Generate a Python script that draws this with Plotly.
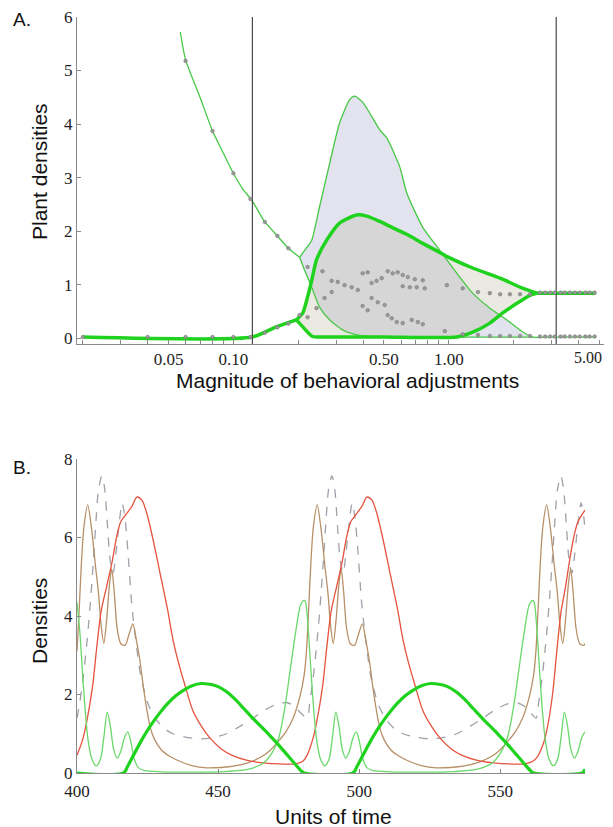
import math
import plotly.graph_objects as go

# page body adds an 8px offset; figure sized so that it fills the window exactly
OX, OY = 8, 8
W, H = 605, 819

# ---------------- Panel A data ----------------
# thin green: upper branch (left)
upper_x = [0.0567, 0.06, 0.07, 0.08, 0.09, 0.10, 0.11, 0.1225, 0.14, 0.16, 0.18, 0.203]
upper_y = [5.72, 5.2, 4.5, 3.87, 3.45, 3.08, 2.8, 2.56, 2.17, 1.91, 1.68, 1.51]
# thin green: upper boundary of oscillation envelope (lavender region)
env_top_x = [0.203, 0.218, 0.231, 0.251, 0.280, 0.311, 0.346, 0.365, 0.398, 0.478, 0.515, 0.592,
             0.638, 0.757, 0.908, 1.09, 1.29, 1.55, 1.86, 2.21, 2.46, 3.0, 4.0, 4.8]
env_top_y = [1.51, 1.68, 1.83, 2.45, 3.27, 4.02, 4.45, 4.52, 4.41, 3.89, 3.74, 3.2,
             2.71, 2.07, 1.64, 1.21, 0.84, 0.56, 0.34, 0.11, 0.02, 0.02, 0.02, 0.02]
# thin green: lower boundary of lavender region
env_low_x = [0.203, 0.214, 0.231, 0.251, 0.280, 0.322, 0.373, 0.478, 1.0, 2.46]
env_low_y = [1.51, 1.27, 0.95, 0.58, 0.34, 0.15, 0.06, 0.02, 0.02, 0.02]

# thick green
thick_left_x = [0.02, 0.1225, 0.158, 0.196]
thick_left_y = [0.02, 0.02, 0.21, 0.34]
loop_up_x = [0.196, 0.21, 0.221, 0.231, 0.243, 0.271, 0.311, 0.373, 0.416, 0.478, 0.55, 0.638,
             0.757, 0.88, 1.01, 1.29, 1.73, 2.21, 2.57]
loop_up_y = [0.34, 0.47, 0.77, 1.08, 1.46, 1.83, 2.15, 2.3, 2.28, 2.18, 2.06, 1.94,
             1.77, 1.63, 1.5, 1.31, 1.12, 0.93, 0.84]
loop_low_x = [0.196, 0.21, 0.233, 0.27, 0.5, 1.09, 1.29, 1.55, 1.78, 2.07, 2.38, 2.57]
loop_low_y = [0.34, 0.21, 0.03, 0.02, 0.02, 0.02, 0.11, 0.28, 0.47, 0.65, 0.8, 0.84]
thick_right_x = [2.57, 4.8]
thick_right_y = [0.84, 0.84]

# simulation dots
dots_x = [0.02, 0.04, 0.06, 0.08, 0.10, 0.12, 0.14, 0.16, 0.18,
          0.06, 0.08, 0.10, 0.12, 0.14, 0.16, 0.18,
          0.221, 0.259, 0.286, 0.305, 0.328, 0.354, 0.378, 0.398, 0.42, 0.438, 0.462, 0.488,
          0.52, 0.549, 0.579, 0.611, 0.645, 0.695, 0.757, 0.611, 0.659, 0.71, 0.773,
          0.979, 1.16, 1.365, 1.55, 1.73, 1.92, 2.14, 2.38,
          0.203, 0.221, 0.243, 0.265, 0.286, 0.398, 0.42, 0.438, 0.468, 0.504, 0.52, 0.543,
          0.573, 0.611, 0.673, 0.718, 0.757, 0.958, 1.16, 1.365, 1.55, 1.73, 1.92, 2.14, 2.38,
          2.65, 2.8, 2.95, 3.1, 3.3, 3.45, 3.65, 3.85, 4.05, 4.3, 4.5, 4.75,
          2.65, 2.8, 2.95, 3.1, 3.3, 3.45, 3.65, 3.85, 4.05, 4.3, 4.5, 4.75]
dots_y = [0.02, 0.02, 0.02, 0.02, 0.02, 0.02, 0.1, 0.2, 0.27,
          5.18, 3.87, 3.08, 2.6, 2.17, 1.91, 1.68,
          1.33, 1.25, 1.07, 1.05, 0.99, 0.95, 0.9, 1.21, 1.23, 1.03, 1.07, 1.12,
          1.25, 1.21, 1.23, 1.18, 1.14, 1.1, 1.08, 0.97, 0.95, 0.95, 0.93,
          0.99, 0.93, 0.86, 0.84, 0.82, 0.82, 0.82, 0.82,
          0.43, 0.39, 0.56, 0.75, 0.86, 0.6, 0.52, 0.75, 0.67, 0.62, 0.43, 0.37,
          0.3, 0.28, 0.34, 0.3, 0.26, 0.13, 0.07, 0.06, 0.04, 0.04, 0.04, 0.04, 0.04,
          0.85, 0.85, 0.85, 0.85, 0.85, 0.85, 0.85, 0.85, 0.85, 0.85, 0.85, 0.85,
          0.03, 0.03, 0.03, 0.03, 0.03, 0.03, 0.03, 0.03, 0.03, 0.03, 0.03, 0.03]

vlines_x = [0.1225, 3.15]

xA_tickvals = [0.02, 0.03, 0.04, 0.05, 0.06, 0.07, 0.08, 0.09, 0.10, 0.2, 0.3, 0.4, 0.5,
               0.6, 0.7, 0.8, 0.9, 1.0, 2, 3, 4, 5]
xA_ticktext = ["", "", "", "0.05", "", "", "", "", "0.10", "", "", "", "0.50",
               "", "", "", "", "1.00", "", "", "", ""]
xA_last_label = "5.00"   # last tick label, right-aligned at the picture edge
yA_tickvals = [0, 1, 2, 3, 4, 5, 6]

# ---------------- Panel B data ----------------
red_t = [400, 402, 403.5, 405.5, 407, 408.5, 410.5, 412.5, 414, 415.5, 417.5, 419.5, 421.2, 423,
         424.8, 427, 429.4, 432, 434, 436, 438, 441, 444, 447, 451, 455, 460, 466, 472, 477, 480,
         481.5, 483.5, 485, 487, 488.5, 490, 492, 494, 495.5, 497, 499, 501, 502.7, 504.5,
         506.3, 508.5, 510.9, 513.5, 515.5, 517.5, 519.5, 522.5, 525.5, 528.5, 532.5, 536.5,
         541.5, 547.5, 553.5, 558.5, 561.5,
         563, 565, 566.5, 568.5, 570, 571.5, 573, 574.5, 576, 577.5, 580]
red_v = [0.45, 0.85, 1.33, 2.2, 3.2, 4.1, 4.75, 5.4, 6.0, 6.4, 6.6, 6.8, 7.03, 6.95,
         6.6, 5.93, 5.1, 4.2, 3.4, 2.8, 2.3, 1.6, 1.2, 0.9, 0.62, 0.45, 0.33, 0.26, 0.23, 0.23, 0.3,
         0.45, 0.85, 1.33, 2.2, 3.2, 4.1, 4.75, 5.4, 6.0, 6.4, 6.6, 6.8, 7.03, 6.95,
         6.6, 5.93, 5.1, 4.2, 3.4, 2.8, 2.3, 1.6, 1.2, 0.9, 0.62, 0.45,
         0.33, 0.26, 0.23, 0.23, 0.3,
         0.4, 0.7, 1.1, 2.0, 3.1, 4.1, 4.7, 5.4, 6.0, 6.4, 6.7]

brown_t = [400, 400.8, 401.6, 402.5, 403.8, 405.2, 406.5, 407.6, 408.5, 409.5, 410.5, 411.5, 412.3,
           413.2, 414.2, 415.5, 417, 418.5, 419.8, 421, 422.3, 423.5, 424.8, 426, 427.5, 430, 433,
           437, 441, 446, 451, 456, 461, 465, 468, 471, 474, 476.6, 479, 480.5,
           481.3, 482.1, 482.9, 483.8, 485.1, 486.5, 487.8, 488.9, 489.8, 490.8, 491.8, 492.8,
           493.6, 494.5, 495.5, 496.8, 498.3, 499.8, 501.1, 502.3, 503.6, 504.8, 506.1, 507.3,
           508.8, 511.3, 514.3, 518.3, 522.3, 527.3, 532.3, 537.3, 542.3, 546.3, 549.3, 552.3,
           555.3, 557.9, 560.3, 561.8,
           562.6, 563.4, 564.2, 565.1, 566.4, 567.8, 569.1, 570.2, 571.1, 572.1, 573.1, 574.1,
           574.9, 575.8, 576.8, 578.1, 579.6, 580]
brown_v = [3.1, 4.2, 5.4, 6.3, 6.83, 6.2, 5.3, 4.6, 3.8, 3.3, 3.9, 4.8, 5.2,
           4.6, 3.7, 3.3, 3.25, 3.55, 3.8, 3.4, 2.86, 2.2, 1.59, 1.15, 0.85, 0.58, 0.42,
           0.28, 0.18, 0.13, 0.14, 0.18, 0.27, 0.4, 0.55, 0.78, 1.05, 1.4, 1.95, 2.5,
           3.1, 4.2, 5.4, 6.3, 6.83, 6.2, 5.3, 4.6, 3.8, 3.3, 3.9, 4.8,
           5.2, 4.6, 3.7, 3.3, 3.25, 3.55, 3.8, 3.4, 2.86, 2.2, 1.59, 1.15,
           0.85, 0.58, 0.42, 0.28, 0.18, 0.13, 0.14, 0.18, 0.27, 0.4, 0.55, 0.78,
           1.05, 1.4, 1.95, 2.5,
           3.1, 4.2, 5.4, 6.3, 6.83, 6.2, 5.3, 4.6, 3.8, 3.3, 3.9, 4.8,
           5.2, 4.6, 3.7, 3.3, 3.25, 3.3]

dash_t = [400, 401, 402.2, 403.2, 404, 405, 405.8, 406.8, 407.6, 408.8, 409.8, 410.8, 411.8,
          412.8, 413.8, 415, 416, 417, 418, 419.4, 420.3, 421.5, 422.5, 424, 425.5, 428.4, 431,
          434, 438, 443.6, 448, 453, 458, 462.4, 466, 471, 474.5, 477, 479,
          481.5, 482.5, 483.7, 484.7, 485.5, 486.5, 487.3, 488.3, 489.1, 490.3, 491.3, 492.3,
          493.3, 494.3, 495.3, 496.5, 497.5, 498.5, 499.5, 500.9, 501.8, 503, 504, 505.5, 507,
          509.9, 512.5, 515.5, 519.5, 525.1, 529.5, 534.5, 539.5, 543.9, 547.5, 552.5, 556,
          558.5, 560.5,
          562.6, 563.6, 564.8, 565.8, 566.6, 567.6, 568.4, 569.4, 570.2, 571.4, 572.4, 573.4,
          574.4, 575.4, 576.4, 577.6, 578.6, 579.6, 580]
dash_v = [1.4, 1.8, 2.43, 3.1, 3.7, 4.6, 5.4, 6.5, 7.2, 7.57, 7.25, 6.3, 5.4,
          5.1, 5.6, 6.4, 6.88, 6.5, 5.68, 4.3, 3.7, 3.0, 2.5, 2.05, 1.7, 1.33, 1.13,
          1.0, 0.92, 0.87, 0.9, 1.0, 1.2, 1.4, 1.58, 1.76, 1.79, 1.7, 1.55,
          1.4, 1.8, 2.43, 3.1, 3.7, 4.6, 5.4, 6.5, 7.2, 7.57, 7.25, 6.3,
          5.4, 5.1, 5.6, 6.4, 6.88, 6.5, 5.68, 4.3, 3.7, 3.0, 2.5, 2.05, 1.7,
          1.33, 1.13, 1.0, 0.92, 0.87, 0.9, 1.0, 1.2, 1.4, 1.58, 1.76, 1.79,
          1.7, 1.55,
          1.4, 1.8, 2.43, 3.1, 3.7, 4.6, 5.4, 6.5, 7.2, 7.57, 7.25, 6.3,
          5.4, 5.1, 5.6, 6.4, 6.88, 6.5, 6.2]

tgreen_t = [400, 401, 402, 403, 404, 405.3, 406.8, 408.3, 409.5, 410.7, 411.8, 413, 414.2, 415.5,
            416.8, 418, 419.2, 420.3, 421.8, 424, 430, 440, 450, 457, 462, 466, 469, 471.5,
            473.5, 475.5, 477.5, 479.3, 480.5,
            481, 482, 483, 484, 485, 486.3, 487.8, 489.3, 490.5, 491.7, 492.8, 494, 495.2, 496.5,
            497.8, 499, 500.2, 501.3, 502.8, 505, 511, 521, 531, 538, 543, 547, 550, 552.5,
            554.5, 556.5, 558.5, 560.3, 561.5,
            562, 563, 564, 565, 566, 567.3, 568.8, 570.3, 571.5, 572.7, 573.8, 575, 576.2, 577.5,
            578.8, 580]
tgreen_v = [4.35, 3.6, 2.5, 1.5, 0.8, 0.35, 0.18, 0.35, 0.9, 1.55, 1.2, 0.6, 0.38, 0.55,
            0.9, 1.05, 0.75, 0.35, 0.13, 0.06, 0.03, 0.02, 0.03, 0.06, 0.12, 0.25, 0.5, 0.9,
            1.6, 2.6, 3.6, 4.3, 4.4,
            4.35, 3.6, 2.5, 1.5, 0.8, 0.35, 0.18, 0.35, 0.9, 1.55, 1.2, 0.6, 0.38, 0.55,
            0.9, 1.05, 0.75, 0.35, 0.13, 0.06, 0.03, 0.02, 0.03, 0.06, 0.12, 0.25, 0.5, 0.9,
            1.6, 2.6, 3.6, 4.3, 4.4,
            4.35, 3.6, 2.5, 1.5, 0.8, 0.35, 0.18, 0.35, 0.9, 1.55, 1.2, 0.6, 0.38, 0.55,
            0.9, 1.05]

kgreen_t = [400, 416.5, 418, 420, 423, 426, 429, 432, 435, 438, 441, 444, 447, 450, 453, 456,
            459, 462, 465, 468, 471, 474, 477, 479.5, 480.5,
            497.8, 499.3, 501.3, 504.3, 507.3, 510.3, 513.3, 516.3, 519.3, 522.3, 525.3, 528.3,
            531.3, 534.3, 537.3, 540.3, 543.3, 546.3, 549.3, 552.3, 555.3, 558.3, 560.8, 561.8,
            579, 580]
kgreen_v = [0, 0, 0.18, 0.45, 0.85, 1.2, 1.5, 1.76, 1.97, 2.12, 2.23, 2.28, 2.26, 2.2, 2.07, 1.88,
            1.65, 1.42, 1.2, 0.98, 0.75, 0.5, 0.25, 0.05, 0,
            0, 0.18, 0.45, 0.85, 1.2, 1.5, 1.76, 1.97, 2.12, 2.23, 2.28, 2.26,
            2.2, 2.07, 1.88, 1.65, 1.42, 1.2, 0.98, 0.75, 0.5, 0.25, 0.05, 0,
            0, 0.1]

xB_tickvals = [400, 450, 500, 550]
yB_tickvals = [0, 2, 4, 6, 8]

# ---------------- styling ----------------
THIN = "#46c846"
THICK = "#1ed21e"
LAV = "#e2e3ee"
BEIGE = "rgba(190,185,160,0.30)"
AX = "#8a8a8a"
SERIF = "Liberation Serif"
SANS = "Liberation Sans"
TICKSIZE = 17


def fx(px):
    return (px - OX) / W


def fy(py):
    return 1 - (py - OY) / H


fig = go.Figure()

# lavender envelope region
lav_x = env_top_x[:21] + env_low_x[::-1]
lav_y = env_top_y[:21] + env_low_y[::-1]
fig.add_trace(go.Scatter(x=lav_x, y=lav_y, fill="toself", fillcolor=LAV, mode="none",
                         line_shape="spline", xaxis="x", yaxis="y", hoverinfo="skip"))
# beige region inside the thick loop
loop_x = loop_up_x + loop_low_x[::-1]
loop_y = loop_up_y + loop_low_y[::-1]
fig.add_trace(go.Scatter(x=loop_x, y=loop_y, fill="toself", fillcolor=BEIGE, mode="none",
                         line_shape="spline", xaxis="x", yaxis="y", hoverinfo="skip"))

for xs, ys in [(upper_x, upper_y), (env_top_x, env_top_y), (env_low_x, env_low_y)]:
    fig.add_trace(go.Scatter(x=xs, y=ys, mode="lines",
                             line=dict(color=THIN, width=1.3, shape="spline", smoothing=0.6),
                             xaxis="x", yaxis="y"))
for xs, ys in [(thick_left_x, thick_left_y), (loop_up_x, loop_up_y), (loop_low_x, loop_low_y),
               (thick_right_x, thick_right_y)]:
    fig.add_trace(go.Scatter(x=xs, y=ys, mode="lines",
                             line=dict(color=THICK, width=3.5, shape="spline", smoothing=0.6),
                             xaxis="x", yaxis="y"))
for vx in vlines_x:
    fig.add_trace(go.Scatter(x=[vx, vx], y=[-0.11, 6.0], mode="lines",
                             line=dict(color="#3a3a3a", width=1.1), xaxis="x", yaxis="y"))
fig.add_trace(go.Scatter(x=dots_x, y=dots_y, mode="markers",
                         marker=dict(size=3.6, color="#9a9a9a", line=dict(color="#7a7a7a", width=0.6)),
                         xaxis="x", yaxis="y"))

# Panel B
fig.add_trace(go.Scatter(x=dash_t, y=dash_v, mode="lines",
                         line=dict(color="#a0a0aa", width=1.3, dash="dash", shape="spline", smoothing=0.8),
                         xaxis="x2", yaxis="y2"))
fig.add_trace(go.Scatter(x=brown_t, y=brown_v, mode="lines",
                         line=dict(color="#b89068", width=1.3, shape="spline", smoothing=0.8),
                         xaxis="x2", yaxis="y2"))
fig.add_trace(go.Scatter(x=red_t, y=red_v, mode="lines",
                         line=dict(color="#e5533e", width=1.3, shape="spline", smoothing=0.8),
                         xaxis="x2", yaxis="y2"))
fig.add_trace(go.Scatter(x=tgreen_t, y=tgreen_v, mode="lines",
                         line=dict(color="#6ad86a", width=1.3, shape="spline", smoothing=0.8),
                         xaxis="x2", yaxis="y2"))
fig.add_trace(go.Scatter(x=kgreen_t, y=kgreen_v, mode="lines",
                         line=dict(color=THICK, width=3.2, shape="spline", smoothing=0.8),
                         xaxis="x2", yaxis="y2"))

axis_common = dict(showgrid=False, zeroline=False, showline=True, linecolor=AX, linewidth=1,
                   ticks="inside", ticklen=4, tickcolor=AX, automargin=False,
                   ticklabeloverflow="allow",
                   tickfont=dict(family=SERIF, size=TICKSIZE, color="#222"))

fig.update_layout(
    width=W, height=H, margin=dict(l=0, r=0, t=0, b=0, autoexpand=False),
    paper_bgcolor="white", plot_bgcolor="white", showlegend=False,
    xaxis=dict(domain=[fx(77), fx(604)], type="log",
               range=[math.log10(0.0188), math.log10(5.25)],
               tickvals=xA_tickvals, ticktext=xA_ticktext, anchor="y", **axis_common),
    yaxis=dict(domain=[fy(344), fy(17)], range=[-0.11, 6.0], tickvals=yA_tickvals,
               anchor="x", **axis_common),
    xaxis2=dict(domain=[fx(77), fx(585)], range=[400, 580], tickvals=xB_tickvals, anchor="y2",
                ticklabelstandoff=3, **axis_common),
    yaxis2=dict(domain=[fy(773), fy(459)], range=[0, 8], tickvals=yB_tickvals, anchor="x2",
                **axis_common),
)


def ann(text, px, py, size=21, angle=0, xanchor="center", family=SANS, color="#111"):
    fig.add_annotation(text=text, x=fx(px), y=fy(py), xref="paper", yref="paper",
                       showarrow=False, textangle=angle, xanchor=xanchor, yanchor="middle",
                       font=dict(family=family, size=size, color=color))


ann("A.", 11, 20, size=19, xanchor="left")
ann("B.", 11, 467, size=19, xanchor="left")
ann("Plant densities", 40, 172, angle=-90)
ann("Magnitude of behavioral adjustments", 347, 381)
ann("Densities", 39, 621, angle=-90)
ann("Units of time", 333, 816)
ann(xA_last_label, 604, 357, size=16, xanchor="right", family=SERIF, color="#222")

fig.write_html("out.html")
